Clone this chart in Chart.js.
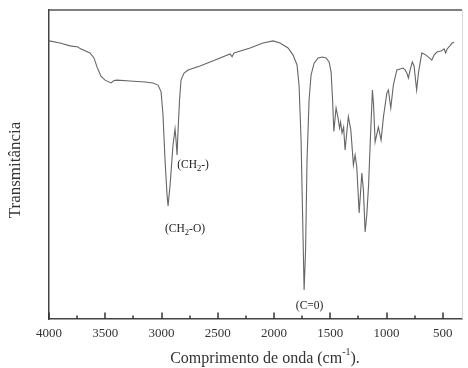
<!DOCTYPE html>
<html>
<head>
<meta charset="utf-8">
<script src="https://cdn.jsdelivr.net/npm/chart.js@4.4.0/dist/chart.umd.min.js"></script>
<style>
  body { margin: 0; background: #fff; }
  canvas { display: block; }
</style>
</head>
<body>
<canvas id="irChart" width="468" height="368"></canvas>
<script>
// spectrum: wavenumber (cm-1) and transmittance (arbitrary %)
const wavenumber = [
    3998, 3902, 3813, 3742, 3724, 3636, 3600, 3573, 3538, 3502,
    3449, 3422, 3396, 3280, 3147, 3076, 3031, 3004, 2987, 2969,
    2951, 2942, 2924, 2898, 2880, 2871, 2862, 2853, 2840, 2827,
    2800, 2764, 2658, 2524, 2391, 2373, 2356, 2213, 2098, 2009,
    1947, 1876, 1831, 1796, 1778, 1760, 1742, 1733, 1720, 1707,
    1689, 1671, 1644, 1609, 1573, 1538, 1511, 1493, 1480, 1469,
    1449, 1431, 1418, 1409, 1396, 1382, 1369, 1340, 1318, 1295,
    1280, 1265, 1244, 1220, 1206, 1191, 1176, 1160, 1147, 1126,
    1116, 1102, 1073, 1049, 1028, 998, 984, 963, 940, 909,
    880, 853, 836, 820, 806, 791, 771, 756, 733, 716,
    687, 649, 598, 578, 554, 516, 489, 476, 462, 436,
    418, 400
];
const transmittance = [
    90.0, 89.3, 88.4, 88.0, 87.5, 86.1, 84.5, 81.5, 78.6, 77.3,
    76.4, 77.2, 77.3, 77.0, 76.7, 76.4, 75.7, 73.5, 66.0, 51.5,
    40.1, 36.6, 43.4, 56.3, 61.5, 57.9, 53.1, 61.2, 70.9, 77.3,
    79.6, 80.6, 81.9, 83.8, 85.8, 84.9, 86.1, 87.7, 89.3, 90.0,
    89.3, 87.7, 85.4, 82.2, 75.7, 57.9, 25.6, 9.4, 22.3, 51.5,
    70.9, 79.0, 82.8, 84.5, 84.8, 84.5, 83.2, 79.9, 70.9, 60.7,
    68.3, 65.0, 61.8, 63.7, 60.2, 62.1, 54.7, 65.5, 61.2, 49.8,
    53.1, 49.2, 34.3, 47.2, 41.7, 28.2, 33.7, 43.4, 55.7, 74.1,
    69.3, 57.3, 62.1, 57.9, 65.4, 73.1, 74.1, 68.3, 75.7, 80.6,
    80.9, 81.2, 80.6, 79.6, 78.0, 80.6, 83.2, 81.9, 74.1, 79.9,
    86.1, 85.4, 83.8, 85.4, 86.4, 86.7, 87.4, 86.1, 87.4, 88.5,
    89.3, 89.6
];
const majorTicks = [4000, 3500, 3000, 2500, 2000, 1500, 1000, 500];
const minorTicks = [3750, 3250, 2750, 2250, 1750, 1250, 750];

// band labels, anchored in data units
const bandNotes = [
    { pre: '(CH', sub: '2', post: '-)', x: 2720, y: 48.9 },
    { pre: '(CH', sub: '2', post: '-O)', x: 2791, y: 28.2 },
    { pre: '(C=0)', sub: '', post: '', x: 1684, y: 3.2 }
];

const serif = 'Liberation Serif';
const inkColor = '#333';

// text with an optional sub/superscript piece, centred on cx
function drawScriptText(ctx, parts, cx, baseY, size, shift, scriptSize) {
    const big = size + 'px "' + serif + '"';
    const small = scriptSize + 'px "' + serif + '"';
    ctx.font = big;
    const w1 = ctx.measureText(parts.pre).width;
    const w3 = ctx.measureText(parts.post).width;
    ctx.font = small;
    const w2 = parts.sub ? ctx.measureText(parts.sub).width : 0;
    let x = cx - (w1 + w2 + w3) / 2;
    ctx.textAlign = 'left';
    ctx.textBaseline = 'alphabetic';
    ctx.font = big;
    ctx.fillText(parts.pre, x, baseY);
    x += w1;
    if (parts.sub) {
        ctx.font = small;
        ctx.fillText(parts.sub, x, baseY + shift);
        x += w2;
    }
    ctx.font = big;
    ctx.fillText(parts.post, x, baseY);
}

const spectrumFrame = {
    id: 'spectrumFrame',
    afterDraw(chart) {
        const { ctx, chartArea: a, scales: { x, y } } = chart;
        ctx.save();

        // top and right edges of the box
        ctx.strokeStyle = '#555';
        ctx.lineWidth = 1.5;
        ctx.beginPath();
        ctx.moveTo(a.left, a.top);
        ctx.lineTo(a.right, a.top);
        ctx.stroke();
        ctx.strokeStyle = '#d8d8d8';
        ctx.lineWidth = 1;
        ctx.beginPath();
        ctx.moveTo(a.right + 0.5, a.top);
        ctx.lineTo(a.right + 0.5, a.bottom);
        ctx.stroke();

        // inward ticks on the bottom axis
        ctx.strokeStyle = '#333';
        ctx.lineWidth = 1.5;
        majorTicks.forEach(v => {
            const px = Math.round(x.getPixelForValue(v));
            ctx.beginPath();
            ctx.moveTo(px, a.bottom);
            ctx.lineTo(px, a.bottom - 6.5);
            ctx.stroke();
        });
        minorTicks.forEach(v => {
            const px = Math.round(x.getPixelForValue(v));
            ctx.beginPath();
            ctx.moveTo(px, a.bottom);
            ctx.lineTo(px, a.bottom - 3.5);
            ctx.stroke();
        });

        // band labels
        ctx.fillStyle = '#222';
        bandNotes.forEach(n => {
            drawScriptText(ctx, n, x.getPixelForValue(n.x), y.getPixelForValue(n.y), 11.5, 3, 8.5);
        });

        // axis titles
        ctx.fillStyle = inkColor;
        drawScriptText(ctx, { pre: 'Comprimento de onda (cm', sub: '-1', post: ').' }, 265, 363, 16, -8, 10);

        ctx.translate(15.5, 170);
        ctx.rotate(-Math.PI / 2);
        ctx.textAlign = 'center';
        ctx.textBaseline = 'middle';
        ctx.font = '17px "' + serif + '"';
        ctx.fillText('Transmitância', 0, 0);

        ctx.restore();
    }
};

const irCtx = document.getElementById('irChart').getContext('2d');
new Chart(irCtx, {
    type: 'line',
    data: {
        datasets: [{
            label: 'Transmitância',
            data: wavenumber.map((w, i) => ({ x: w, y: transmittance[i] })),
            borderColor: '#666',
            borderWidth: 1.1,
            pointRadius: 0,
            tension: 0,
            fill: false
        }]
    },
    options: {
        responsive: false,
        animation: false,
        layout: {
            padding: { top: 10, right: 6, left: 0, bottom: 0 }
        },
        plugins: {
            legend: { display: false },
            tooltip: { enabled: false }
        },
        scales: {
            x: {
                type: 'linear',
                reverse: true,
                min: 330,
                max: 4000,
                afterBuildTicks: s => { s.ticks = majorTicks.map(v => ({ value: v })); },
                afterFit: s => { s.height = 49; },
                grid: { display: false, drawTicks: false },
                border: { display: true, color: '#444', width: 1.5 },
                ticks: {
                    autoSkip: false,
                    maxRotation: 0,
                    padding: 7,
                    color: inkColor,
                    font: { family: serif, size: 13 },
                    callback: v => String(v)
                }
            },
            y: {
                min: 0,
                max: 100,
                afterFit: s => { s.width = 49; },
                grid: { display: false, drawTicks: false },
                border: { display: true, color: '#444', width: 1.5 },
                ticks: { display: false }
            }
        }
    },
    plugins: [spectrumFrame]
});
</script>
</body>
</html>
